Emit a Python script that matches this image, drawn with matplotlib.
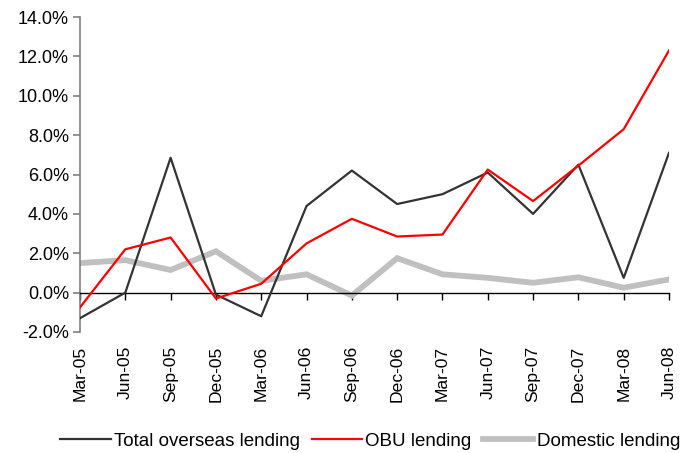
import matplotlib.pyplot as plt
from matplotlib.ticker import FuncFormatter

plt.rcParams['font.family'] = ['Liberation Sans', 'DejaVu Sans']

quarters = ['Mar-05', 'Jun-05', 'Sep-05', 'Dec-05', 'Mar-06', 'Jun-06', 'Sep-06',
            'Dec-06', 'Mar-07', 'Jun-07', 'Sep-07', 'Dec-07', 'Mar-08', 'Jun-08']
total_overseas = [-1.3, 0.0, 6.85, -0.1, -1.2, 4.4, 6.2, 4.5, 5.0, 6.1, 4.0, 6.5, 0.75, 7.1]
obu = [-0.75, 2.2, 2.8, -0.3, 0.45, 2.5, 3.75, 2.85, 2.95, 6.25, 4.65, 6.45, 8.3, 12.3]
domestic = [1.5, 1.65, 1.15, 2.1, 0.6, 0.93, -0.15, 1.75, 0.93, 0.75, 0.5, 0.78, 0.25, 0.67]

x = list(range(len(quarters)))

fig = plt.figure(figsize=(6.92, 4.53), dpi=100)
ax = fig.add_axes([80 / 692, 1 - 332 / 453, 589 / 692, 315 / 453])

ax.plot(x, total_overseas, color='#333333', lw=1.6, label='Total overseas lending', zorder=3)
ax.plot(x, obu, color='#ff0000', lw=1.6, label='OBU lending', zorder=4)
ax.plot(x, domestic, color='#c0c0c0', lw=4.2, label='Domestic lending', zorder=2,
        solid_joinstyle='miter')

ax.set_xlim(0, len(quarters) - 1)
ax.set_ylim(-2, 14)
ax.set_yticks(range(-2, 15, 2))
ax.yaxis.set_major_formatter(FuncFormatter(lambda v, p: f'{v:.1f}%'))

for s in ['top', 'right']:
    ax.spines[s].set_visible(False)
ax.spines['left'].set_color('#808080')
ax.spines['left'].set_linewidth(1.2)
ax.spines['bottom'].set_position(('data', 0))
ax.spines['bottom'].set_color('black')
ax.spines['bottom'].set_linewidth(1.0)

ax.tick_params(axis='y', direction='out', length=5, width=1.2, color='#808080',
               labelsize=13, pad=3)
ax.set_xticks(x)
ax.tick_params(axis='x', direction='out', length=5, width=1.0, labelbottom=False)

# category labels sit below the plot area, not on the zero line
sec = ax.secondary_xaxis('bottom')
sec.set_xticks(x)
sec.set_xticklabels(quarters, rotation=90, fontsize=12.6)
sec.tick_params(length=0, pad=10)
sec.spines['bottom'].set_visible(False)

fig.legend(loc='center', bbox_to_anchor=(0.535, 1 - 441 / 453), ncol=3, frameon=False,
           fontsize=13.5, handlelength=2.67, handletextpad=0.2, columnspacing=0.6)

fig.savefig('out.png', dpi=100)
